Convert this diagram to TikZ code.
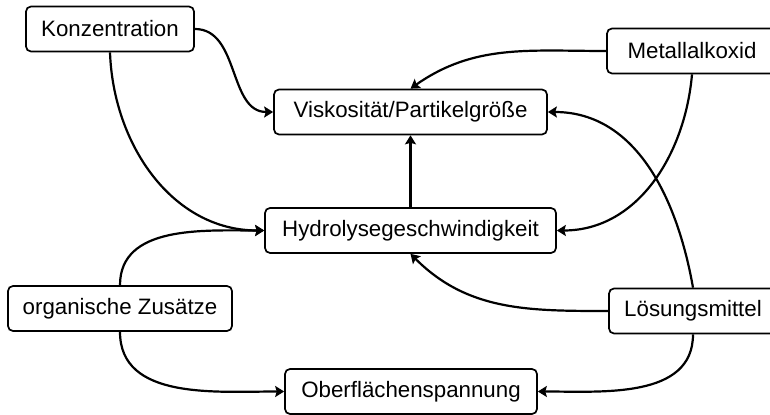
\documentclass[tikz,border=0pt]{standalone}
\usepackage{fontspec}
\setmainfont{Liberation Sans}
\usetikzlibrary{arrows.meta}

\begin{document}
\begin{tikzpicture}[x=0.5pt,y=0.5pt]
\tikzstyle{factor}=[rectangle,draw,rounded corners=2.5pt,line width=0.85pt,minimum height=22.5pt,inner sep=0pt,font=\fontsize{11.15}{13}\selectfont]
\tikzstyle{every node}=[factor]
\tikzstyle{effect}=[-{Stealth[length=4.5pt,width=5.5pt,inset=0.8pt]},line width=1.1pt]
\useasboundingbox (0,0) rectangle (770,-415);
\node[minimum width=84pt] (konz) at (110,-29) {Konzentration};
\node[minimum width=136.5pt] (visk) at (410.5,-112) {Viskosität/Partikelgröße};
\node[minimum width=85pt] (metall) at (692,-51) {Metallalkoxid};
\node[minimum width=145.5pt] (hydro) at (410.5,-230.5) {Hydrolysegeschwindigkeit};
\node[minimum width=112pt] (organ) at (120,-308.5) {organische Zusätze};
\node[minimum width=126pt] (oberfl) at (411,-391.5) {Oberflächenspannung};
\node[minimum width=84pt] (loesung) at (693,-311) {Lösungsmittel};
% Einflüsse
\draw[effect] (konz.east) to[out=0,in=180] (visk.west);
\draw[effect] (konz.south) to[out=-88,in=180] (hydro.west);
\draw[effect] (metall.west) to[out=180,in=35] (visk.north);
\draw[effect] (metall.south) to[out=-95,in=0] (hydro.east);
\draw[effect] (hydro.north) -- (visk.south);
\draw[effect] (loesung.north) to[out=100,in=0] (visk.east);
\draw[effect] (loesung.west) to[out=180,in=-45] (hydro.south);
\draw[effect] (loesung.south) to[out=-90,in=0] (oberfl.east);
\draw[effect] (organ.north) to[out=90,in=180] (hydro.west);
\draw[effect] (organ.south) to[out=-90,in=180] (oberfl.west);
\end{tikzpicture}
\end{document}
